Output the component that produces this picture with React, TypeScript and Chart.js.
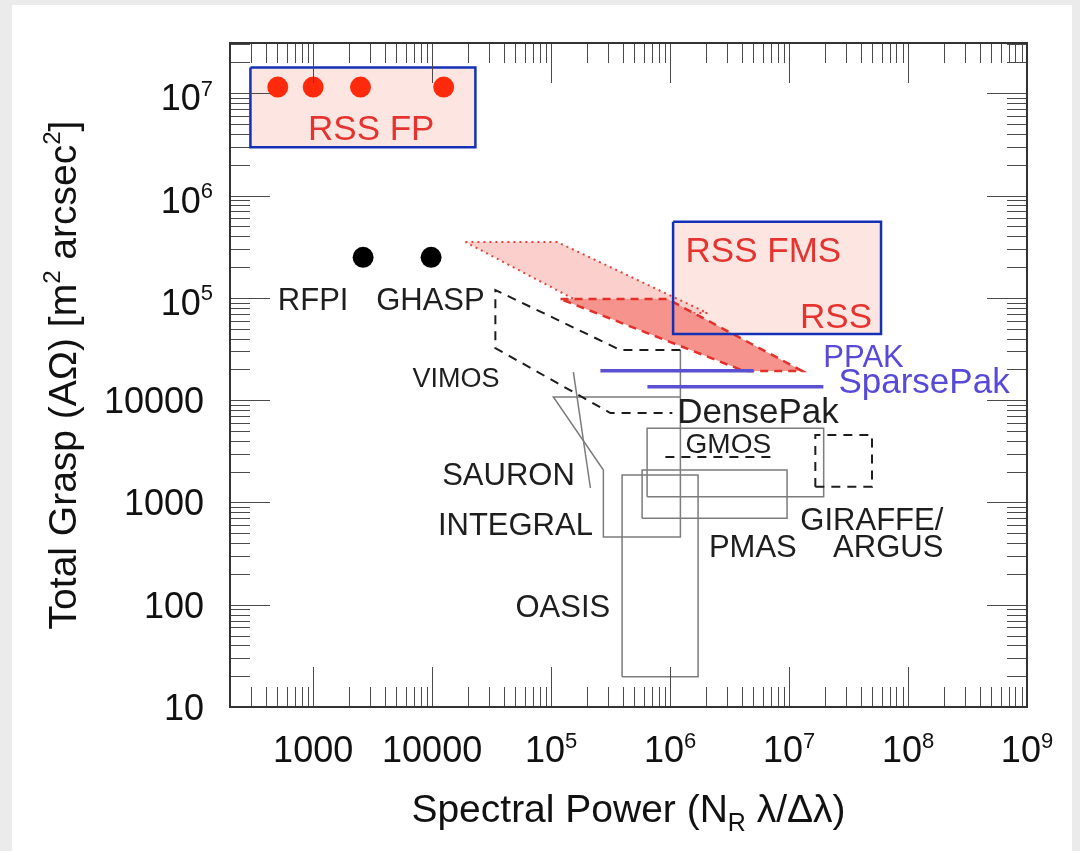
import React, { useEffect, useRef } from 'react';
import { Chart, registerables } from 'chart.js';

Chart.register(...registerables);

// ---------- axes ----------
const X_MIN = 200;
const X_MAX = 1e9;
const Y_MIN = 10;
const Y_MAX = 3.1e7;

const xTickValues = [1e3, 1e4, 1e5, 1e6, 1e7, 1e8, 1e9];
const xTickLabels = ['1000', '10000', '10^5', '10^6', '10^7', '10^8', '10^9'];
const yTickValues = [10, 100, 1000, 1e4, 1e5, 1e6, 1e7];
const yTickLabels = ['10', '100', '1000', '10000', '10^5', '10^6', '10^7'];

// ---------- data (spectral power, total grasp) ----------
// RSS Fabry-Perot points
const rssFpX = [504, 1000, 2500, 12500];
const rssFpY = [1.15e7, 1.15e7, 1.15e7, 1.15e7];
// RFPI, GHASP points
const fpiX = [2630, 9800];
const fpiY = [2.49e5, 2.49e5];

// highlight boxes [x range], [y range]
const rssFpBoxX = [297, 23100];
const rssFpBoxY = [1.79e7, 2.96e6];
const rssFmsBoxX = [1.06e6, 5.93e7];
const rssFmsBoxY = [5.55e5, 4.43e4];

// RSS FMS (light) and RSS (dark) regions
const rssFmsX = [19050, 112950, 2.06e6, 2.6e5, 19050];
const rssFmsY = [3.51e5, 3.51e5, 7.1e4, 7.1e4, 3.51e5];
const rssX = [1.2e5, 9.5e5, 1.294e7, 4.2e6, 1.2e5];
const rssY = [9.73e4, 9.73e4, 1.925e4, 1.925e4, 9.73e4];

// VIMOS (dashed outline)
const vimosX = [1.221e6, 3.82e5, 3.4e4, 3.4e4, 3.15e5, 1.045e6];
const vimosY = [3.09e4, 3.09e4, 1.192e5, 3.23e4, 7.48e3, 7.48e3];

// INTEGRAL outline
const integralX = [1.221e6, 1.221e6, 2.75e5, 2.75e5, 1.045e5, 1.221e6];
const integralY = [3.09e4, 459, 459, 2073, 1.072e4, 1.072e4];

// SAURON
const sauronX = [1.539e5, 2.14e5];
const sauronY = [1.883e4, 1383];

// rectangles
const oasisX = [3.95e5, 1.719e6];
const oasisY = [19.8, 1853];
const pmasX = [5.82e5, 9.62e6];
const pmasY = [699, 2073];
const giraffeX = [6.41e5, 1.954e7];
const giraffeY = [1137, 5300];
const argusX = [1.663e7, 4.98e7];
const argusY = [1424, 4560];

// GMOS (dashed line)
const gmosX = [9.13e5, 7.97e6];
const gmosY = [2780, 2780];

// fibre bundles
const ppakX = [2.596e5, 5.01e6];
const ppakY = [1.938e4, 1.938e4];
const sparsePakX = [6.45e5, 1.942e7];
const sparsePakY = [1.352e4, 1.352e4];

// ---------- annotation labels ----------
const labelTexts = ['RSS FP', 'RFPI', 'GHASP', 'VIMOS', 'RSS FMS', 'RSS', 'PPAK', 'SparsePak', 'DensePak', 'GMOS', 'SAURON', 'INTEGRAL', 'OASIS', 'PMAS', 'GIRAFFE/', 'ARGUS'];
const labelX = [3077, 1000, 9676, 15850, 6.08e6, 4.98e7, 1.942e7, 2.6e7, 1.151e6, 3.09e6, 4.38e4, 5.01e4, 1.256e5, 4.96e6, 1.98e8, 1.98e8];
const labelY = [3.49e6, 7.6e4, 7.6e4, 1.343e4, 2.25e5, 5.03e4, 2.107e4, 1.173e4, 5.97e3, 3.04e3, 1479, 480, 75.8, 292.6, 537, 292.6];

// styles for labels (kept apart from the values)
const RED = '#e5342f';
const BLUE = '#574ad8';
const INK = '#1e1e1e';
const labelStyle: Record<string, { c: string; s: number; a: CanvasTextAlign }> = {
  'RSS FP': { c: RED, s: 35, a: 'center' },
  RFPI: { c: INK, s: 31, a: 'center' },
  GHASP: { c: INK, s: 31, a: 'center' },
  VIMOS: { c: INK, s: 27, a: 'center' },
  'RSS FMS': { c: RED, s: 35, a: 'center' },
  RSS: { c: RED, s: 35, a: 'right' },
  PPAK: { c: BLUE, s: 31, a: 'left' },
  SparsePak: { c: BLUE, s: 35, a: 'left' },
  DensePak: { c: INK, s: 35, a: 'left' },
  GMOS: { c: INK, s: 28, a: 'center' },
  SAURON: { c: INK, s: 31, a: 'center' },
  INTEGRAL: { c: INK, s: 31, a: 'center' },
  OASIS: { c: INK, s: 31, a: 'center' },
  PMAS: { c: INK, s: 31, a: 'center' },
  'GIRAFFE/': { c: INK, s: 31, a: 'right' },
  ARGUS: { c: INK, s: 31, a: 'right' },
};

const FONT = '"Liberation Sans", Arial, Helvetica, sans-serif';

const pts = (xs: number[], ys: number[]) => xs.map((x, i) => ({ x, y: ys[i] }));
const rect = (xr: number[], yr: number[]) => [
  { x: xr[0], y: yr[0] },
  { x: xr[1], y: yr[0] },
  { x: xr[1], y: yr[1] },
  { x: xr[0], y: yr[1] },
  { x: xr[0], y: yr[0] },
];

const lineDs = (data: any[], o: any) => ({
  type: 'line',
  data,
  pointRadius: 0,
  tension: 0,
  fill: false,
  borderWidth: 1.5,
  ...o,
});

const GRAY = '#7c7c7c';
const DASH_BLACK = '#1c1c1c';

function buildDatasets() {
  return [
    lineDs(rect(rssFpBoxX, rssFpBoxY), { fill: 'shape', backgroundColor: '#fde6e2', borderColor: 'rgba(0,0,0,0)', order: 100 }),
    lineDs(rect(rssFmsBoxX, rssFmsBoxY), { fill: 'shape', backgroundColor: '#fde6e2', borderColor: 'rgba(0,0,0,0)', order: 100 }),
    lineDs(pts(rssFmsX, rssFmsY), { fill: 'shape', backgroundColor: '#fbcfcb', borderColor: '#e0453d', borderWidth: 2, borderDash: [2, 4], order: 90 }),
    lineDs(pts(rssX, rssY), { fill: 'shape', backgroundColor: '#f7938d', borderColor: '#e3302b', borderWidth: 2.5, borderDash: [8, 6], order: 80 }),
    lineDs(pts(integralX, integralY), { borderColor: GRAY, order: 70 }),
    lineDs(pts(sauronX, sauronY), { borderColor: GRAY, order: 70 }),
    lineDs(rect(oasisX, oasisY), { borderColor: GRAY, order: 70 }),
    lineDs(rect(pmasX, pmasY), { borderColor: GRAY, order: 70 }),
    lineDs(rect(giraffeX, giraffeY), { borderColor: GRAY, order: 70 }),
    lineDs(pts(vimosX, vimosY), { borderColor: DASH_BLACK, borderWidth: 2, borderDash: [9, 7], order: 60 }),
    lineDs(rect(argusX, argusY), { borderColor: DASH_BLACK, borderWidth: 2, borderDash: [9, 7], order: 60 }),
    lineDs(pts(gmosX, gmosY), { borderColor: DASH_BLACK, borderWidth: 2, borderDash: [9, 7], order: 60 }),
    lineDs(pts(ppakX, ppakY), { borderColor: '#5b4fd4', borderWidth: 3.5, order: 50 }),
    lineDs(pts(sparsePakX, sparsePakY), { borderColor: '#5b4fd4', borderWidth: 3.5, order: 50 }),
    lineDs(rect(rssFpBoxX, rssFpBoxY), { borderColor: '#1430b4', borderWidth: 2.5, order: 40 }),
    lineDs(rect(rssFmsBoxX, rssFmsBoxY), { borderColor: '#1430b4', borderWidth: 2.5, order: 40 }),
    {
      type: 'line',
      data: pts(rssFpX, rssFpY),
      showLine: false,
      pointRadius: 10.5,
      pointBackgroundColor: '#ff2a0c',
      pointBorderWidth: 0,
      borderColor: 'rgba(0,0,0,0)',
      order: 30,
    },
    {
      type: 'line',
      data: pts(fpiX, fpiY),
      showLine: false,
      pointRadius: 10.5,
      pointBackgroundColor: '#000000',
      pointBorderWidth: 0,
      borderColor: 'rgba(0,0,0,0)',
      order: 30,
    },
  ];
}

type Part = { t: string; k?: 'sup' | 'sub' };

function drawParts(ctx: CanvasRenderingContext2D, parts: Part[], x: number, y: number, align: 'left' | 'center' | 'right', size: number, small: number) {
  ctx.textAlign = 'left';
  ctx.textBaseline = 'alphabetic';
  const widths = parts.map((p) => {
    ctx.font = `${p.k ? small : size}px ${FONT}`;
    return ctx.measureText(p.t).width;
  });
  const total = widths.reduce((a, b) => a + b, 0);
  let cx = align === 'left' ? x : align === 'center' ? x - total / 2 : x - total;
  parts.forEach((p, i) => {
    ctx.font = `${p.k ? small : size}px ${FONT}`;
    const dy = p.k === 'sup' ? -size * 0.4 : p.k === 'sub' ? size * 0.22 : 0;
    ctx.fillText(p.t, cx, y + dy);
    cx += widths[i];
  });
}

const splitPow = (s: string): Part[] => {
  const i = s.indexOf('^');
  if (i < 0) return [{ t: s }];
  return [{ t: s.slice(0, i) }, { t: s.slice(i + 1), k: 'sup' }];
};

const framePlugin = {
  id: 'frameTicks',
  afterDatasetsDraw(chart: any) {
    const { ctx, chartArea: a, scales } = chart;
    const xs = scales.x;
    const ys = scales.y;
    ctx.save();
    ctx.strokeStyle = '#4a4a4a';
    ctx.lineWidth = 1;
    ctx.beginPath();
    for (let e = 2; e <= 9; e++) {
      for (let m = 1; m <= 9; m++) {
        const v = m * Math.pow(10, e);
        if (v < X_MIN || v > X_MAX) continue;
        const px = Math.round(xs.getPixelForValue(v)) + 0.5;
        const L = m === 1 ? 40 : 20;
        ctx.moveTo(px, a.bottom);
        ctx.lineTo(px, a.bottom - L);
        ctx.moveTo(px, a.top);
        ctx.lineTo(px, a.top + L);
      }
    }
    for (let e = 1; e <= 7; e++) {
      for (let m = 1; m <= 9; m++) {
        const v = m * Math.pow(10, e);
        if (v < Y_MIN || v > Y_MAX) continue;
        const py = Math.round(ys.getPixelForValue(v)) + 0.5;
        const L = m === 1 ? 40 : 20;
        ctx.moveTo(a.left, py);
        ctx.lineTo(a.left + L, py);
        ctx.moveTo(a.right, py);
        ctx.lineTo(a.right - L, py);
      }
    }
    ctx.stroke();
    ctx.strokeStyle = '#333333';
    ctx.lineWidth = 2;
    ctx.strokeRect(a.left, a.top, a.right - a.left, a.bottom - a.top);
    ctx.restore();
  },
  afterDraw(chart: any) {
    const { ctx, chartArea: a, scales } = chart;
    const xs = scales.x;
    const ys = scales.y;
    ctx.save();
    // annotation labels
    labelTexts.forEach((t, i) => {
      const st = labelStyle[t];
      ctx.fillStyle = st.c;
      ctx.font = `${st.s}px ${FONT}`;
      ctx.textAlign = st.a;
      ctx.textBaseline = 'alphabetic';
      ctx.fillText(t, xs.getPixelForValue(labelX[i]), ys.getPixelForValue(labelY[i]));
    });
    // x tick labels
    ctx.fillStyle = '#111111';
    xTickValues.forEach((v, i) => {
      drawParts(ctx, splitPow(xTickLabels[i]), xs.getPixelForValue(v), a.bottom + 55, 'center', 36, 22);
    });
    // y tick labels
    yTickValues.forEach((v, i) => {
      const parts = splitPow(yTickLabels[i]);
      const py = ys.getPixelForValue(v);
      if (parts.length > 1) drawParts(ctx, parts, 213, py + 17, 'right', 36, 22);
      else drawParts(ctx, parts, 204, py + 13, 'right', 36, 22);
    });
    // axis titles
    const midX = (a.left + a.right) / 2;
    drawParts(ctx, [{ t: 'Spectral Power (N' }, { t: 'R', k: 'sub' }, { t: ' \u03bb/\u0394\u03bb)' }], midX, a.bottom + 115, 'center', 39, 25);
    ctx.save();
    ctx.translate(76, (a.top + a.bottom) / 2);
    ctx.rotate(-Math.PI / 2);
    drawParts(ctx, [{ t: 'Total Grasp (A\u03a9) [m' }, { t: '2', k: 'sup' }, { t: ' arcsec' }, { t: '2', k: 'sup' }, { t: ']' }], 0, 0, 'center', 39, 24);
    ctx.restore();
    ctx.restore();
  },
};

export default function App() {
  const ref = useRef<HTMLCanvasElement>(null);
  useEffect(() => {
    const chart = new Chart(ref.current as HTMLCanvasElement, {
      type: 'line',
      data: { datasets: buildDatasets() as any },
      options: {
        responsive: false,
        animation: false,
        devicePixelRatio: 1,
        events: [],
        layout: { padding: { left: 230, top: 43, right: 53, bottom: 144 } },
        plugins: { legend: { display: false }, tooltip: { enabled: false } },
        scales: {
          x: { type: 'logarithmic', min: X_MIN, max: X_MAX, display: false },
          y: { type: 'logarithmic', min: Y_MIN, max: Y_MAX, display: false },
        },
      },
      plugins: [framePlugin],
    } as any);
    return () => chart.destroy();
  }, []);
  return (
    <div style={{ position: 'fixed', left: 0, top: 0, width: 1080, height: 851, background: '#ebebeb', overflow: 'hidden' }}>
      <div style={{ position: 'absolute', left: 12, top: 5, width: 1060, height: 846, background: '#ffffff' }} />
      <canvas ref={ref} width={1080} height={851} style={{ position: 'absolute', left: 0, top: 0, width: 1080, height: 851 }} />
    </div>
  );
}
